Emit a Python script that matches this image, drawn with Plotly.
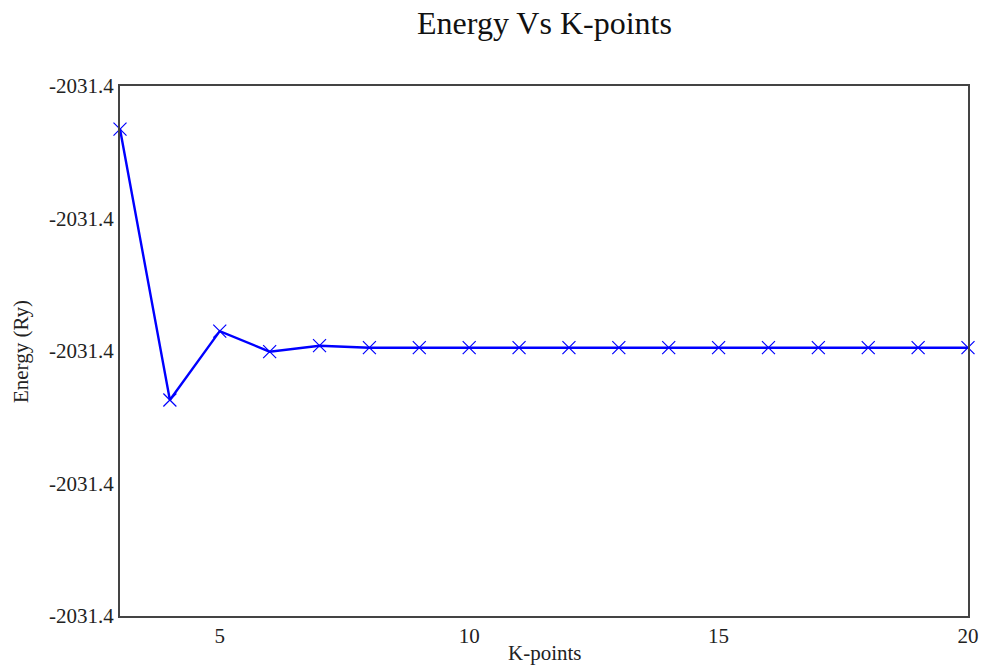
import plotly.graph_objects as go

kpoints = [3, 4, 5, 6, 7, 8, 9, 10, 11, 12, 13, 14, 15, 16, 17, 18, 19, 20]
energy = [-2031.38325, -2031.40370, -2031.39850, -2031.40005, -2031.39960,
          -2031.39975, -2031.39975, -2031.39975, -2031.39975, -2031.39975,
          -2031.39975, -2031.39975, -2031.39975, -2031.39975, -2031.39975,
          -2031.39975, -2031.39975, -2031.39975]
y_ticks = [-2031.42, -2031.41, -2031.40, -2031.39, -2031.38]
y_tick_labels = ["-2031.4", "-2031.4", "-2031.4", "-2031.4", "-2031.4"]
x_ticks = [5, 10, 15, 20]

font_family = "Liberation Serif, Times New Roman, serif"

fig = go.Figure()
fig.add_trace(go.Scatter(
    x=kpoints, y=energy, mode="lines+markers",
    line=dict(color="#0000ff", width=2.4),
    marker=dict(symbol="x-thin-open", size=13, color="#0000ff",
                line=dict(color="#2a2aff", width=1.2)),
    showlegend=False, cliponaxis=False,
))

fig.update_layout(
    width=983, height=667,
    margin=dict(l=120, r=15, t=86, b=51),
    paper_bgcolor="white", plot_bgcolor="white",
    font=dict(family=font_family, color="#222222", size=21),
    title=dict(text="Energy Vs K-points", x=0.5539, xanchor="center",
               y=0.9655, yanchor="middle",
               font=dict(size=32, color="#111111", family=font_family)),
    xaxis=dict(range=[3, 20], tickvals=x_ticks, showgrid=False, zeroline=False,
               showline=True, linecolor="#444444", linewidth=2, mirror=True,
               ticks="", ticklen=0, automargin=False),
    yaxis=dict(range=[-2031.42, -2031.38], tickvals=y_ticks, ticktext=y_tick_labels,
               showgrid=False, zeroline=False,
               showline=True, linecolor="#444444", linewidth=2, mirror=True,
               ticks="", ticklen=0, automargin=False),
    annotations=[
        dict(text="Energy (Ry)", textangle=-90, xref="paper", yref="paper",
             x=-0.1167, y=0.498, xanchor="center", yanchor="middle",
             showarrow=False, font=dict(size=21)),
        dict(text="K-points", xref="paper", yref="paper",
             x=0.5012, y=-0.0698, xanchor="center", yanchor="middle",
             showarrow=False, font=dict(size=21)),
    ],
)

fig.write_html(
    "out.html",
    config={"displayModeBar": False},
    post_script=(
        "document.body.style.margin='0';"
        "document.body.style.overflow='hidden';"
        "document.documentElement.style.overflow='hidden';"
    ),
)
